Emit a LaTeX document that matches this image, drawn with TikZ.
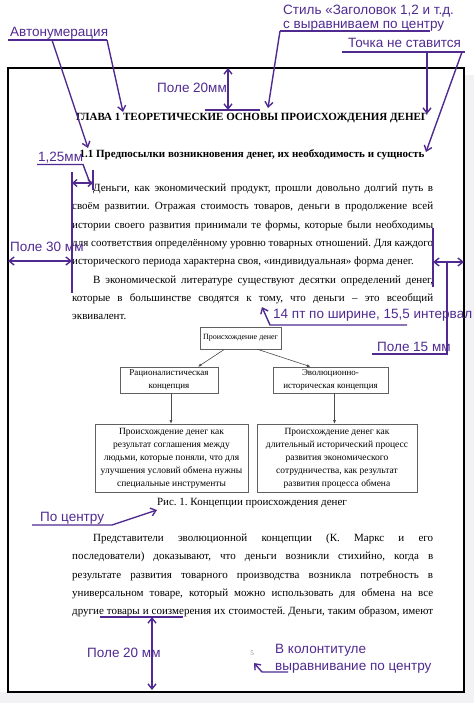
\documentclass[tikz,border=0pt]{standalone}
\usepackage{fontspec}
\setmainfont{Liberation Serif}
\newfontfamily\annfont{Liberation Sans}
\usetikzlibrary{arrows.meta}
\definecolor{ann}{RGB}{80,42,145}
\definecolor{bggray}{RGB}{242,242,244}
\frenchspacing
\newcommand\jfull[1]{\makebox[361pt][s]{#1}}
\newcommand\jind[1]{\makebox[340pt][s]{#1}}
\tikzset{
 ann/.style={font=\annfont\fontsize{13.5}{16}\selectfont, text=ann, inner sep=0pt, anchor=base west},
 annline/.style={draw=ann, line width=1.4pt},
 annarrow/.style={annline, -{Straight Barb[length=5pt,width=8pt]}},
 dblarrow/.style={annline, {Straight Barb[length=5pt,width=8pt]}-{Straight Barb[length=5pt,width=8pt]}},
 body/.style={font=\fontsize{11}{13}\selectfont, inner sep=0pt, anchor=base west},
 head/.style={font=\bfseries\fontsize{11}{13}\selectfont, inner sep=0pt, anchor=base},
 dbox/.style={draw=gray!75!black, line width=0.6pt, fill=white, align=center, inner sep=1pt},
 dtext/.style={font=\fontsize{9.5}{13}\selectfont},
 dline/.style={draw=gray!60!black, line width=0.6pt, -{Latex[length=3.5pt,width=3pt]}},
}
\begin{document}
\begin{tikzpicture}[x=1pt,y=-1pt]
\useasboundingbox (0,0) rectangle (474,703);
% background outside the page
\fill[bggray] (464,75) rectangle (474,703);
\fill[bggray] (0,692) rectangle (474,703);
% page border
\draw[ann, line width=1.5pt] (8,68) rectangle (464,692);

% headings
\node[head] (h1) at (252,121) {ГЛАВА 1 ТЕОРЕТИЧЕСКИЕ ОСНОВЫ ПРОИСХОЖДЕНИЯ ДЕНЕГ};
\node[head] (h2) at (252,158) {1.1 Предпосылки возникновения денег, их необходимость и сущность};

% body text
\node[body] (l1) at (93,191.5) {\jind{Деньги, как экономический продукт, прошли довольно долгий путь в}};
\node[body] (l2) at (72,209.8) {\jfull{своём развитии. Отражая стоимость товаров, деньги в продолжение всей}};
\node[body] (l3) at (72,228.1) {\jfull{истории своего развития принимали те формы, которые были необходимы}};
\node[body] (l4) at (72,246.4) {\jfull{для соответствия определённому уровню товарных отношений. Для каждого}};
\node[body] (l5) at (72,264.7) {исторического периода характерна своя, «индивидуальная» форма денег.};
\node[body] (l6) at (93,283.0) {\jind{В экономической литературе существуют десятки определений денег,}};
\node[body] (l7) at (72,301.3) {\jfull{которые в большинстве сводятся к тому, что деньги – это всеобщий}};
\node[body] (l8) at (72,319.6) {эквивалент.};

% diagram
\node[dbox, minimum width=81pt, minimum height=22pt, font=\fontsize{8}{10}\selectfont] (top) at (240.5,338) {Происхождение денег};
\node[dbox, minimum width=98pt, minimum height=26pt, font=\fontsize{9}{12.5}\selectfont] (lc) at (169,380) {Рационалистическая\\концепция};
\node[dbox, minimum width=115pt, minimum height=26pt, font=\fontsize{9}{12.5}\selectfont] (rc) at (330.5,380) {Эволюционно-\\историческая концепция};
\node[dbox, minimum width=153pt, minimum height=68pt, dtext] (lb) at (171.5,458) {Происхождение денег как\\результат соглашения между\\людьми, которые поняли, что для\\улучшения условий обмена нужны\\специальные инструменты};
\node[dbox, minimum width=160pt, minimum height=68pt, dtext] (rb) at (337,458) {Происхождение денег как\\длительный исторический процесс\\развития экономического\\сотрудничества, как результат\\развития процесса обмена};
\draw[dline] ([xshift=-16pt]top.south) -- ([xshift=29pt]lc.north);
\draw[dline] ([xshift=17pt]top.south) -- ([xshift=-20pt]rc.north);
\draw[dline] ([xshift=2pt]lc.south) -- ([xshift=2pt]lc.south |- lb.north);
\draw[dline] ([xshift=4pt]rc.south) -- ([xshift=4pt]rc.south |- rb.north);
\node[body, anchor=base] (cap) at (252,505.5) {Рис. 1. Концепции происхождения денег};

% third paragraph
\node[body] (m1) at (93,541.5) {\jind{Представители эволюционной концепции (К. Маркс и его}};
\node[body] (m2) at (72,559.8) {\jfull{последователи) доказывают, что деньги возникли стихийно, когда в}};
\node[body] (m3) at (72,578.1) {\jfull{результате развития товарного производства возникла потребность в}};
\node[body] (m4) at (72,596.4) {\jfull{универсальном товаре, который можно использовать для обмена на все}};
\node[body] (m5) at (72,614.7) {\jfull{другие товары и соизмерения их стоимостей. Деньги, таким образом, имеют}};
\node[font=\fontsize{7}{8}\selectfont, text=gray, inner sep=0pt] (pg) at (252,653) {5};

% ---------- annotations ----------
% Автонумерация
\node[ann] (avto) at (10,36.5) {Автонумерация};
\coordinate (avL) at (8,40);
\coordinate (avR) at (107,40);
\coordinate (avM) at (52,40);
\coordinate (avT1) at (123,112);
\coordinate (avT2) at (88,148);
\draw[annline] (avL) -- (avR);
\draw[annarrow] (avR) -- (avT1);
\draw[annarrow] (avM) -- (avT2);

% Стиль
\node[ann] (st1) at (283,15) {Стиль «Заголовок 1,2 и т.д.};
\node[ann] (st2) at (283,29) {с выравниваем по центру};
\coordinate (stL) at (280,31);
\coordinate (stR) at (430,31);
\coordinate (stT) at (268,108);
\draw[annline] (stR) -- (stL);
\draw[annarrow] (stL) -- (stT);

% Точка не ставится
\node[ann] (tn) at (348,47.5) {Точка не ставится};
\coordinate (tnL) at (342,52);
\coordinate (tnR) at (465,52);
\coordinate (tnA) at (427,52);
\coordinate (tnB) at (462,52);
\coordinate (tnT1) at (427,114);
\coordinate (tnT2) at (426,152);
\draw[annline] (tnL) -- (tnR);
\draw[annarrow] (tnA) -- (tnT1);
\draw[annarrow] (tnB) -- (tnT2);

% Поле 20мм (top)
\node[ann] (p20t) at (157,92.5) {Поле 20мм};
\coordinate (p20a) at (228,68);
\coordinate (p20b) at (228,110);
\coordinate (p20l) at (205,110);
\coordinate (p20r) at (260,110);
\draw[annline] (p20l) -- (p20r);
\draw[dblarrow] (p20a) -- (p20b);

% 1,25мм
\node[ann] (ind) at (38,162) {1,25мм};
\coordinate (indL) at (37,164.5);
\coordinate (indR) at (83,164.5);
\coordinate (indE) at (90,183);
\coordinate (v1a) at (72,172);
\coordinate (v1b) at (72,293);
\coordinate (v2a) at (93,170);
\coordinate (v2b) at (93,190);
\coordinate (ia) at (72,183);
\coordinate (ib) at (93,183);
\draw[annline] (indL) -- (indR) -- (indE);
\draw[annline] (v1a) -- (v1b);
\draw[annline] (v2a) -- (v2b);
\draw[annline, {Straight Barb[length=4pt,width=7pt]}-{Straight Barb[length=4pt,width=7pt]}] (ia) -- (ib);

% Поле 30 мм
\node[ann] (p30) at (10,251.5) {Поле 30 мм};
\coordinate (p30a) at (8,261);
\coordinate (p30b) at (72,261);
\draw[dblarrow] (p30a) -- (p30b);

% Поле 15 мм
\coordinate (v3a) at (433,228);
\coordinate (v3b) at (433,287);
\coordinate (p15a) at (433,262);
\coordinate (p15b) at (464,262);
\coordinate (p15m) at (447,262);
\coordinate (p15c) at (447,354);
\coordinate (p15l) at (372,354);
\draw[annline] (v3a) -- (v3b);
\draw[dblarrow] (p15a) -- (p15b);
\draw[annline] (p15m) -- (p15c) -- (p15l);
\node[ann] (p15) at (377,351) {Поле 15 мм};

% 14 пт
\node[ann] (pt14) at (273,318) {14 пт по ширине, 15,5 интервал};
\coordinate (ptR) at (407,325);
\coordinate (ptL) at (270,325);
\coordinate (ptT) at (262,307);
\draw[annarrow] (ptR) -- (ptL) -- (ptT);

% По центру
\node[ann] (pc) at (40,521.5) {По центру};
\coordinate (pcL) at (32,525);
\coordinate (pcR) at (112,525);
\coordinate (pcT) at (157,510);
\draw[annarrow] (pcL) -- (pcR) -- (pcT);

% Поле 20 мм (bottom)
\coordinate (bl) at (100,617);
\coordinate (br) at (183,617);
\coordinate (ba) at (152,617);
\coordinate (bb) at (152,690);
\draw[annline] (bl) -- (br);
\node[ann] (p20b) at (87,657.5) {Поле 20 мм};
\draw[dblarrow] (ba) -- (bb);

% В колонтитуле
\node[ann] (kol1) at (275,653.5) {В колонтитуле};
\node[ann] (kol2) at (275,670) {выравнивание по центру};
\coordinate (kR) at (288,672);
\coordinate (kM) at (262,672);
\coordinate (kT) at (254,663);
\draw[annarrow] (kR) -- (kM) -- (kT);
\end{tikzpicture}
\end{document}
